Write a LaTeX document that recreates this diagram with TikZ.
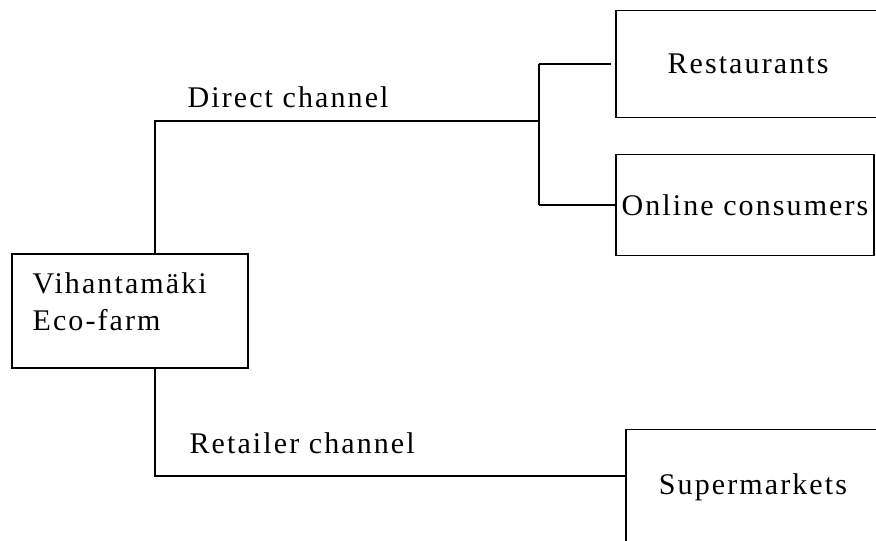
\documentclass[tikz,border=0pt]{standalone}
\usepackage{fontspec}
\setmainfont{Liberation Serif}[LetterSpace=7]
\usepackage{tikz}
\usetikzlibrary{calc, positioning}

\tikzset{
  chbox/.style={draw, line width=1.2pt, rectangle, inner sep=0pt, font=\fontsize{30}{37}\selectfont},
  chlabel/.style={inner sep=0pt, font=\fontsize{30}{37}\selectfont},
}

\begin{document}
\begin{tikzpicture}[x=1pt, y=-1pt, line width=1.2pt]
      \useasboundingbox (0,0) rectangle (876,541);
      \clip (0,0) rectangle (876,541);
      %
      \node[chbox, minimum width=236pt, minimum height=114pt] (farm) at (130,311) {};
      \node[chlabel, anchor=north west, align=left] (farmtext) at (32,272) {Vihantamäki\\Eco-farm};
      \node[chbox, minimum width=264pt, minimum height=107pt] (rest) at (748,64) {Restaurants};
      \node[chbox, minimum width=258pt, minimum height=101pt] (online) at (745,205) {Online consumers};
      \node[chbox, minimum width=254pt, minimum height=115pt] (super) at (753,487) {\raisebox{6pt}{Supermarkets}};
      %
      \coordinate (dtop) at (155,121);
      \coordinate (fork) at (539,121);
      \coordinate (rbot) at (155,476);
      %
      \draw (dtop |- farm.north) -- (dtop) -- (fork);
      \draw (fork |- rest.west) -- (fork |- online.west);
      \draw (fork |- rest.west) -- ($(rest.west)+(-4,0)$);
      \draw (fork |- online.west) -- (online.west);
      \draw (rbot |- farm.south) -- (rbot) -- (rbot -| super.west);
      %
      \node[chlabel, anchor=base west] (direct) at (187,107) {Direct channel};
      \node[chlabel, anchor=base west] (retail) at (189,453) {Retailer channel};
    \end{tikzpicture}
\end{document}
